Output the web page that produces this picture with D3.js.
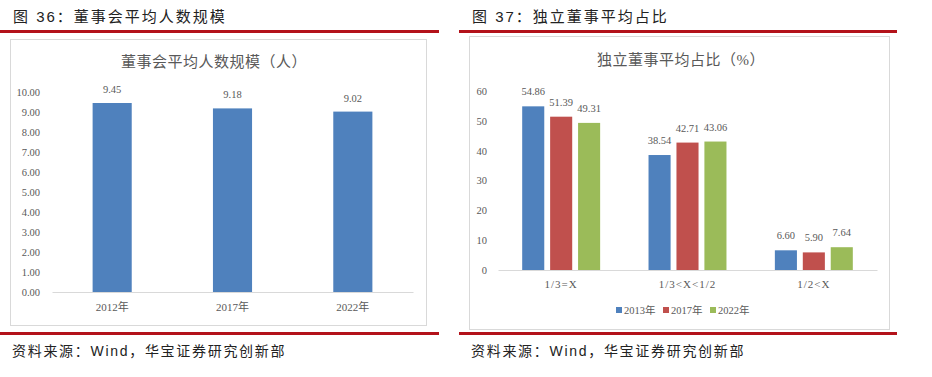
<!DOCTYPE html>
<html>
<head>
<meta charset="utf-8">
<script src="https://cdn.jsdelivr.net/npm/d3@7"></script>
<style>
  body { margin: 0; background: #fff; }
  text { font-family: "Liberation Serif", "Noto Sans CJK SC", serif; }
</style>
</head>
<body>
<div id="chart"></div>
<script>
// left chart: board size
const boardYears = ["2012年", "2017年", "2022年"];
const boardSize = [9.45, 9.18, 9.02];
const boardTicks = [0, 1, 2, 3, 4, 5, 6, 7, 8, 9, 10];

// right chart: independent director share
const shareGroups = ["1/3=X", "1/3<X<1/2", "1/2<X"];
const shareYears = ["2013年", "2017年", "2022年"];
const share2013 = [54.86, 38.54, 6.60];
const share2017 = [51.39, 42.71, 5.90];
const share2022 = [49.31, 43.06, 7.64];
const shareTicks = [0, 10, 20, 30, 40, 50, 60];

const colors = ["#4f81bd", "#c0504d", "#9bbb59"];
const red = "#b3121a";
const grey = "#595959";

const svg = d3.select("#chart").append("svg")
  .attr("width", 932).attr("height", 377);
svg.append("rect").attr("width", 932).attr("height", 377).attr("fill", "#fff");

// page frame: headers, red rules, sources
function frame(x0, x1, boxX0, boxX1, boxY0, boxY1, title) {
  svg.append("text").attr("x", x0 + 13).attr("y", 22)
    .attr("font-size", 15).attr("fill", "#222").attr("letter-spacing", 2)
    .style("font-family", '"Liberation Sans", "Noto Sans CJK SC", sans-serif')
    .text(title);
  svg.append("rect").attr("x", x0).attr("y", 30).attr("width", x1 - x0).attr("height", 3).attr("fill", red);
  svg.append("rect").attr("x", x0).attr("y", 332).attr("width", x1 - x0).attr("height", 3).attr("fill", red);
  svg.append("rect").attr("x", boxX0 + 0.5).attr("y", boxY0 + 0.5)
    .attr("width", boxX1 - boxX0).attr("height", boxY1 - boxY0)
    .attr("fill", "none").attr("stroke", "#d9d9d9");
  svg.append("text").attr("x", x0 + 12).attr("y", 356)
    .attr("font-size", 14).attr("fill", "#222").attr("letter-spacing", 1.7)
    .style("font-family", '"Liberation Sans", "Noto Sans CJK SC", sans-serif')
    .text("资料来源：Wind，华宝证券研究创新部");
}
frame(0, 439, 10, 426, 39, 325, "图 36：董事会平均人数规模");
frame(459, 897, 469, 889, 36, 329, "图 37：独立董事平均占比");

// ---- left chart ----
{
  const x = d3.scaleBand().domain(boardYears).range([52, 413])
    .paddingInner(0.675).paddingOuter(0.3375);
  const y = d3.scaleLinear().domain([0, 10]).range([292, 92]);
  const g = svg.append("g");

  g.append("text").attr("x", 214).attr("y", 67).attr("text-anchor", "middle")
    .attr("font-size", 15).attr("fill", grey).attr("letter-spacing", 0.5)
    .text("董事会平均人数规模（人）");

  const yAxis = g.append("g").attr("transform", "translate(40,0)")
    .call(d3.axisLeft(y).tickValues(boardTicks).tickSize(0).tickFormat(d3.format(".2f")));
  yAxis.select(".domain").remove();
  yAxis.selectAll("text").attr("font-size", 10.5).attr("fill", grey).attr("x", 0)
    .style("font-family", '"Liberation Serif", serif');

  g.selectAll(".bar").data(boardSize).join("rect")
    .attr("x", (d, i) => x(boardYears[i]))
    .attr("y", d => y(d))
    .attr("width", x.bandwidth())
    .attr("height", d => y(0) - y(d))
    .attr("fill", colors[0]);

  g.selectAll(".lbl").data(boardSize).join("text")
    .attr("x", (d, i) => x(boardYears[i]) + x.bandwidth() / 2)
    .attr("y", d => y(d) - 10)
    .attr("text-anchor", "middle").attr("font-size", 10.5).attr("fill", grey)
    .text(d => d.toFixed(2));

  const xAxis = g.append("g").attr("transform", "translate(0,292)")
    .call(d3.axisBottom(x).tickSize(0).tickPadding(11));
  xAxis.select(".domain").attr("stroke", "#d9d9d9");
  xAxis.selectAll("text").attr("font-size", 11).attr("fill", grey);
}

// ---- right chart ----
{
  const series = [share2013, share2017, share2022];
  const x0 = d3.scaleBand().domain(shareGroups).range([498, 877])
    .paddingInner(0.383).paddingOuter(0.1915);
  const x1 = d3.scaleBand().domain(shareYears).range([0, x0.bandwidth()]).paddingInner(0.21);
  const y = d3.scaleLinear().domain([0, 60]).range([270, 91]);
  const g = svg.append("g");

  g.append("text").attr("x", 681).attr("y", 65).attr("text-anchor", "middle")
    .attr("font-size", 15).attr("fill", grey).attr("letter-spacing", 0.5)
    .text("独立董事平均占比（%）");

  const yAxis = g.append("g").attr("transform", "translate(487,0)")
    .call(d3.axisLeft(y).tickValues(shareTicks).tickSize(0));
  yAxis.select(".domain").remove();
  yAxis.selectAll("text").attr("font-size", 10.5).attr("fill", grey).attr("x", 0);

  const cells = [];
  series.forEach((vals, si) => vals.forEach((v, gi) =>
    cells.push({ group: shareGroups[gi], year: shareYears[si], si, v })));

  g.selectAll(".bar").data(cells).join("rect")
    .attr("x", d => x0(d.group) + x1(d.year))
    .attr("y", d => y(d.v))
    .attr("width", x1.bandwidth())
    .attr("height", d => y(0) - y(d.v))
    .attr("fill", d => colors[d.si]);

  g.selectAll(".lbl").data(cells).join("text")
    .attr("x", d => x0(d.group) + x1(d.year) + x1.bandwidth() / 2)
    .attr("y", d => y(d.v) - 11)
    .attr("text-anchor", "middle").attr("font-size", 10.5).attr("fill", grey)
    .text(d => d.v.toFixed(2));

  const xAxis = g.append("g").attr("transform", "translate(0,270)")
    .call(d3.axisBottom(x0).tickSize(0).tickPadding(10));
  xAxis.select(".domain").attr("stroke", "#d9d9d9");
  xAxis.selectAll("text").attr("font-size", 11).attr("fill", grey).attr("letter-spacing", 1);

  // legend
  const lg = g.append("g").attr("transform", "translate(616,310)");
  shareYears.forEach((yr, i) => {
    const it = lg.append("g").attr("transform", `translate(${i * 47},0)`);
    it.append("rect").attr("x", 0).attr("y", -3).attr("width", 6).attr("height", 6).attr("fill", colors[i]);
    it.append("text").attr("x", 8).attr("y", 4).attr("font-size", 10.5).attr("fill", grey).text(yr);
  });
}
</script>
</body>
</html>
